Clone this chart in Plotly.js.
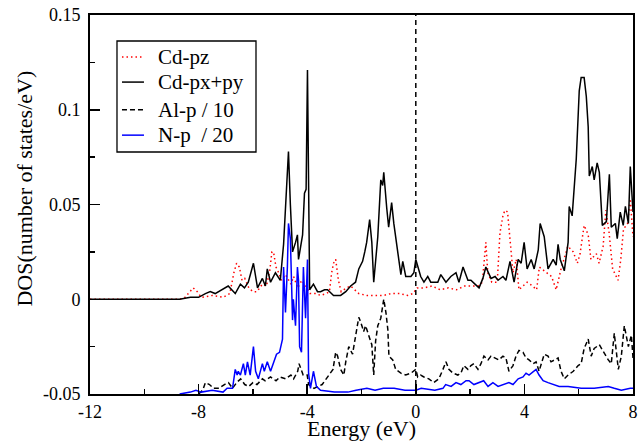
<!DOCTYPE html>
<html>
<head>
<meta charset="utf-8">
<script src="https://cdn.plot.ly/plotly-3.0.1.min.js"></script>
<style>html,body{margin:0;padding:0;background:#fff;}#chart{width:644px;height:441px;}</style>
</head>
<body>
<div id="chart"></div>
<script>
// ---- data ----
const seriesNames = ['Cd-pz', 'Cd-px+py', 'Al-p / 10', 'N-p  / 20'];

const cdPzE = [-12,-8.7,-8.5,-8.2,-8.05,-7.9,-7.5,-7.1,-6.85,-6.7,-6.6,-6.5,-6.4,-6.3,-6.15,-6.0,-5.85,-5.65,-5.5,-5.38,-5.3,-5.24,-5.15,-5.05,-4.95,-4.8,-4.6,-4.5,-4.35,-4.2,-4.05,-3.9,-3.7,-3.5,-3.3,-3.18,-3.1,-3.03,-2.95,-2.85,-2.75,-2.55,-2.4,-2.25,-2.1,-1.8,-1.5,-1.2,-0.9,-0.6,-0.3,-0.1,0.05,0.3,0.6,0.9,1.2,1.5,1.8,2.1,2.3,2.45,2.58,2.65,2.8,3.0,3.1,3.22,3.3,3.38,3.48,3.58,3.7,3.8,3.95,4.1,4.3,4.45,4.55,4.8,5.0,5.17,5.35,5.6,5.8,5.95,6.05,6.2,6.35,6.45,6.65,6.75,6.9,7.0,7.12,7.25,7.45,7.55,7.65,7.8,7.9,8.0];
const cdPz = [0,0,0.001,0.006,0.004,0.001,0.002,0.001,0.003,0.014,0.019,0.017,0.010,0.011,0.006,0.004,0.004,0.008,0.007,0.015,0.025,0.025,0.017,0.014,0.010,0.013,0.008,0.012,0.006,0.010,0.007,0.003,0.003,0.002,0.003,0.004,0.014,0.019,0.021,0.010,0.004,0.006,0.007,0.005,0.003,0.002,0.002,0.002,0.003,0.003,0.002,0.003,0.006,0.006,0.007,0.005,0.006,0.005,0.007,0.007,0.007,0.009,0.030,0.014,0.009,0.009,0.035,0.045,0.047,0.046,0.028,0.014,0.021,0.005,0.007,0.009,0.007,0.005,0.017,0.014,0.012,0.005,0.016,0.028,0.025,0.019,0.024,0.039,0.034,0.021,0.024,0.019,0.028,0.047,0.035,0.016,0.010,0.021,0.037,0.040,0.053,0.033];

const cdPxPyE = [-12,-8.7,-8.3,-8.0,-7.75,-7.57,-7.39,-7.13,-6.91,-6.65,-6.46,-6.31,-6.17,-5.98,-5.83,-5.65,-5.54,-5.47,-5.35,-5.17,-4.99,-4.87,-4.76,-4.69,-4.62,-4.54,-4.43,-4.36,-4.32,-4.25,-4.17,-4.10,-4.04,-3.99,-3.91,-3.77,-3.62,-3.51,-3.36,-3.25,-3.03,-2.77,-2.58,-2.40,-2.22,-2.10,-1.96,-1.88,-1.81,-1.70,-1.62,-1.55,-1.48,-1.40,-1.29,-1.22,-1.18,-1.14,-1.07,-1.00,-0.89,-0.81,-0.66,-0.55,-0.48,-0.37,-0.18,-0.07,0.00,0.11,0.18,0.30,0.44,0.55,0.81,0.92,1.11,1.29,1.48,1.59,1.74,1.92,2.03,2.18,2.33,2.47,2.58,2.77,2.92,3.03,3.21,3.32,3.47,3.62,3.77,3.88,3.99,4.10,4.25,4.36,4.51,4.58,4.73,4.87,5.06,5.17,5.24,5.32,5.47,5.61,5.65,5.76,5.91,6.02,6.09,6.20,6.28,6.35,6.39,6.50,6.57,6.68,6.76,6.87,7.02,7.13,7.20,7.35,7.42,7.53,7.64,7.72,7.83,7.90,8.0];
const cdPxPy = [0,0,0.001,0.001,0.003,0.004,0.003,0.005,0.007,0.003,0.008,0.006,0.009,0.019,0.006,0.011,0.007,0.016,0.009,0.014,0.010,0.029,0.055,0.078,0.050,0.025,0.030,0.034,0.021,0.028,0.034,0.056,0.058,0.121,0.005,0.008,0.004,0.004,0.005,0.005,0.002,0.002,0.004,0.007,0.009,0.016,0.020,0.025,0.030,0.042,0.030,0.009,0.020,0.033,0.063,0.060,0.067,0.059,0.048,0.038,0.051,0.040,0.023,0.013,0.020,0.012,0.012,0.014,0.021,0.016,0.012,0.009,0.012,0.009,0.009,0.013,0.009,0.012,0.014,0.009,0.017,0.010,0.010,0.008,0.006,0.011,0.017,0.011,0.012,0.010,0.012,0.010,0.020,0.009,0.021,0.019,0.030,0.016,0.021,0.016,0.026,0.040,0.033,0.016,0.021,0.018,0.029,0.021,0.015,0.030,0.049,0.044,0.074,0.110,0.117,0.117,0.107,0.091,0.065,0.070,0.063,0.072,0.067,0.039,0.041,0.066,0.038,0.040,0.032,0.046,0.039,0.049,0.040,0.070,0.046];

const alPE = [-8.0,-7.85,-7.75,-7.6,-7.45,-7.25,-7.05,-6.9,-6.75,-6.6,-6.45,-6.3,-6.15,-6.0,-5.85,-5.65,-5.55,-5.35,-5.15,-5.0,-4.8,-4.6,-4.5,-4.35,-4.3,-4.15,-4.0,-3.95,-3.75,-3.6,-3.45,-3.3,-3.2,-3.05,-2.95,-2.88,-2.77,-2.65,-2.58,-2.47,-2.33,-2.22,-2.1,-2.03,-1.92,-1.85,-1.74,-1.62,-1.55,-1.48,-1.4,-1.29,-1.18,-1.1,-1.03,-0.99,-0.85,-0.74,-0.55,-0.37,-0.18,0.0,0.07,0.18,0.3,0.48,0.66,0.85,1.0,1.11,1.22,1.37,1.55,1.66,1.77,1.92,2.03,2.14,2.29,2.4,2.51,2.66,2.77,2.95,3.06,3.21,3.32,3.43,3.58,3.69,3.8,3.95,4.06,4.17,4.32,4.43,4.54,4.73,4.87,4.98,5.1,5.24,5.35,5.47,5.61,5.8,5.98,6.09,6.2,6.35,6.46,6.57,6.76,6.91,7.09,7.2,7.31,7.46,7.57,7.68,7.83,7.94,8.0];
const alP = [-0.05,-0.048,-0.044,-0.045,-0.047,-0.047,-0.045,-0.044,-0.047,-0.044,-0.042,-0.045,-0.046,-0.044,-0.045,-0.042,-0.043,-0.041,-0.043,-0.041,-0.042,-0.040,-0.042,-0.038,-0.034,-0.040,-0.040,-0.045,-0.047,-0.046,-0.045,-0.042,-0.040,-0.037,-0.028,-0.030,-0.037,-0.040,-0.033,-0.025,-0.029,-0.019,-0.0095,-0.012,-0.017,-0.014,-0.019,-0.024,-0.040,-0.022,-0.014,-0.010,0.000,-0.007,-0.016,-0.030,-0.032,-0.037,-0.039,-0.040,-0.039,-0.037,-0.041,-0.040,-0.041,-0.042,-0.044,-0.042,-0.037,-0.033,-0.037,-0.039,-0.040,-0.039,-0.035,-0.037,-0.035,-0.034,-0.037,-0.034,-0.030,-0.032,-0.030,-0.031,-0.032,-0.030,-0.031,-0.038,-0.035,-0.030,-0.027,-0.028,-0.031,-0.032,-0.034,-0.033,-0.038,-0.029,-0.030,-0.033,-0.032,-0.031,-0.038,-0.042,-0.040,-0.038,-0.035,-0.034,-0.026,-0.021,-0.030,-0.026,-0.024,-0.028,-0.032,-0.034,-0.018,-0.037,-0.030,-0.014,-0.025,-0.019,-0.031];

const nPE = [-8.7,-8.3,-8.1,-7.9,-7.5,-7.1,-6.95,-6.75,-6.65,-6.58,-6.54,-6.46,-6.35,-6.28,-6.2,-6.1,-5.98,-5.9,-5.8,-5.65,-5.58,-5.47,-5.35,-5.24,-5.13,-5.02,-4.91,-4.87,-4.8,-4.73,-4.69,-4.62,-4.54,-4.51,-4.43,-4.36,-4.32,-4.28,-4.21,-4.14,-4.06,-3.99,-3.95,-3.88,-3.77,-3.66,-3.51,-3.0,-2.5,-2.2,-1.8,-1.5,-1.2,-0.8,-0.4,0.0,0.2,0.7,1.0,1.1,1.3,1.48,1.66,1.85,1.96,2.14,2.33,2.5,2.66,2.84,3.03,3.25,3.43,3.58,3.77,3.95,4.06,4.17,4.32,4.43,4.54,4.69,4.87,5.06,5.28,5.61,6.09,6.57,7.09,7.31,7.57,7.9,8.0];
const nP = [-0.050,-0.049,-0.048,-0.049,-0.048,-0.049,-0.047,-0.047,-0.037,-0.040,-0.038,-0.040,-0.034,-0.040,-0.033,-0.040,-0.025,-0.038,-0.042,-0.034,-0.038,-0.033,-0.038,-0.033,-0.029,-0.028,-0.021,0.017,-0.007,0.017,0.040,0.032,-0.011,0.000,-0.014,0.017,0.010,-0.025,-0.028,0.017,-0.010,0.021,-0.039,-0.047,-0.038,-0.046,-0.048,-0.049,-0.049,-0.048,-0.047,-0.048,-0.047,-0.047,-0.048,-0.048,-0.047,-0.048,-0.047,-0.045,-0.046,-0.044,-0.045,-0.043,-0.043,-0.045,-0.044,-0.043,-0.046,-0.044,-0.046,-0.045,-0.044,-0.045,-0.042,-0.041,-0.039,-0.040,-0.038,-0.037,-0.040,-0.043,-0.044,-0.045,-0.046,-0.046,-0.047,-0.047,-0.046,-0.047,-0.048,-0.047,-0.047];

const fermiLevel = 0;
const xTickVals = [-12, -8, -4, 0, 4, 8];
const xTickText = ['-12', '-8', '-4', '0', '4', '8'];
const yTickVals = [-0.05, 0, 0.05, 0.1, 0.15];
const yTickText = ['-0.05', '0', '0.05', '0.1', '0.15'];
const xRange = [-12, 8];
const yRange = [-0.05, 0.15];
const xTitle = 'Energy (eV)';
const yTitle = 'DOS(number of states/eV)';

// ---- drawing ----
const serif = 'Liberation Serif';
const styles = [
  {color: '#ff0000', width: 1.5, dash: '1.5px,3px'},
  {color: '#000000', width: 1.5, dash: 'solid'},
  {color: '#000000', width: 1.5, dash: '5px,3px'},
  {color: '#0000ff', width: 1.5, dash: 'solid'}
];
const seriesX = [cdPzE, cdPxPyE, alPE, nPE];
const seriesY = [cdPz, cdPxPy, alP, nP];
const traces = seriesNames.map((n, i) => ({
  x: seriesX[i], y: seriesY[i], name: n, mode: 'lines', line: styles[i], showlegend: false
}));

// hand-built legend box (matches the reference's compact row spacing)
const lg = {x0: 0.0497, x1: 0.3057, y0: 0.6385, y1: 0.9314, rows: [0.889, 0.823, 0.750, 0.683], s0: 0.0589, s1: 0.0994, tx: 0.1215};
const shapes = [
  {type: 'rect', xref: 'paper', yref: 'paper', x0: lg.x0, x1: lg.x1, y0: lg.y0, y1: lg.y1,
   line: {color: '#000', width: 1.3}, fillcolor: '#fff', layer: 'above'},
  {type: 'line', xref: 'x', yref: 'paper', x0: fermiLevel, x1: fermiLevel, y0: 0, y1: 1,
   line: {color: '#000', width: 1.5, dash: '5px,4px'}, layer: 'above'}
];
const annotations = [
  {xref: 'paper', yref: 'paper', x: -0.1197, y: 0.542, xanchor: 'center', yanchor: 'middle', textangle: -90,
   text: yTitle, showarrow: false, font: {family: serif, size: 22, color: '#000'}}
];
seriesNames.forEach((n, i) => {
  shapes.push({type: 'line', xref: 'paper', yref: 'paper', x0: lg.s0, x1: lg.s1, y0: lg.rows[i], y1: lg.rows[i],
    line: styles[i], layer: 'above'});
  annotations.push({xref: 'paper', yref: 'paper', x: lg.tx, y: lg.rows[i], xanchor: 'left', yanchor: 'middle',
    text: n.replace(/ /g, '&nbsp;'), showarrow: false, font: {family: serif, size: 21, color: '#000'}});
});

const axisCommon = {
  showgrid: false, zeroline: false, showline: true, mirror: true,
  linecolor: '#000', linewidth: 2, ticks: 'inside', ticklen: 10, tickwidth: 1.5, tickcolor: '#000',
  tickfont: {family: serif, size: 18, color: '#000'}
};

const layout = {
  width: 644, height: 441,
  margin: {l: 90, r: 11, t: 15, b: 47},
  paper_bgcolor: '#fff', plot_bgcolor: '#fff',
  font: {family: serif, color: '#000'},
  showlegend: false,
  xaxis: Object.assign({}, axisCommon, {
    range: xRange, tickmode: 'array', tickvals: xTickVals, ticktext: xTickText,
    minor: {tickmode: 'linear', tick0: -12, dtick: 2, ticks: 'inside', ticklen: 5, tickwidth: 1.5, tickcolor: '#000', showgrid: false},
    title: {text: xTitle, font: {family: serif, size: 22, color: '#000'}}
  }),
  yaxis: Object.assign({}, axisCommon, {
    range: yRange, tickmode: 'array', tickvals: yTickVals, ticktext: yTickText,
    ticklabelstandoff: 4,
    minor: {tickmode: 'linear', tick0: -0.05, dtick: 0.025, ticks: 'inside', ticklen: 5, tickwidth: 1.5, tickcolor: '#000', showgrid: false}
  }),
  shapes: shapes,
  annotations: annotations
};

Plotly.newPlot('chart', traces, layout, {staticPlot: true, displayModeBar: false});
</script>
</body>
</html>
